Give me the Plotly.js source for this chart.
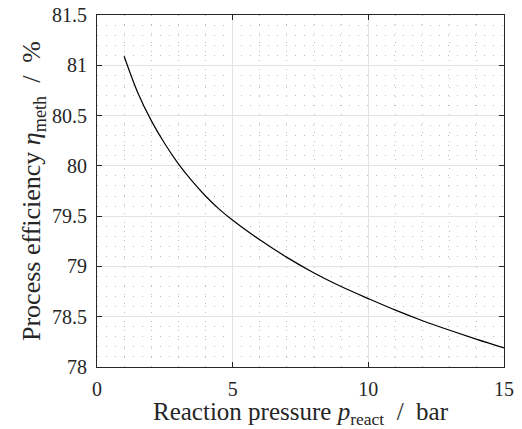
<!DOCTYPE html>
<html>
<head>
<meta charset="utf-8">
<script src="https://cdn.plot.ly/plotly-3.0.1.min.js"></script>
<style>html,body{margin:0;padding:0;background:#fff;}#chart{width:522px;height:429px;}</style>
</head>
<body>
<div id="chart"></div>
<script>
const pressure = [1, 1.5, 2, 2.5, 3, 3.5, 4, 4.5, 5, 6, 7, 8, 9, 10, 11, 12, 13, 14, 15];
const efficiency = [81.09, 80.73, 80.45, 80.22, 80.02, 79.85, 79.70, 79.57, 79.46, 79.265, 79.09, 78.935, 78.80, 78.68, 78.565, 78.46, 78.365, 78.275, 78.19];
const xTicks = [0, 5, 10, 15];
const yTicks = [78, 78.5, 79, 79.5, 80, 80.5, 81, 81.5];

const fontFam = 'Liberation Serif';
const trace = {
  x: pressure, y: efficiency, type: 'scatter', mode: 'lines',
  line: {color: '#000000', width: 1.2, shape: 'spline', smoothing: 1},
  hoverinfo: 'skip'
};
const axisCommon = {
  showline: true, mirror: 'ticks', linecolor: '#262626', linewidth: 1,
  ticks: 'inside', ticklen: 5, tickwidth: 1, tickcolor: '#262626',
  showgrid: true, gridcolor: '#e3e3e3', gridwidth: 1,
  zeroline: false,
  tickfont: {family: fontFam, size: 20, color: '#262626'}
};
const layout = {
  width: 522, height: 429,
  margin: {l: 97, r: 18, t: 15, b: 62},
  paper_bgcolor: '#ffffff', plot_bgcolor: '#ffffff',
  showlegend: false,
  font: {family: fontFam, size: 20},
  xaxis: Object.assign({}, axisCommon, {
    range: [0, 15], tickmode: 'array', tickvals: xTicks, ticktext: xTicks.map(String),
    ticklabelstandoff: 4,
    minor: {dtick: 1, tick0: 0, showgrid: true, gridcolor: '#bdbdbd', griddash: '1px,8px', gridwidth: 1, ticks: ''},
    title: {text: 'Reaction pressure <i>p</i><sub>react</sub>  /  bar', font: {family: fontFam, size: 25, color: '#262626'}, standoff: 3}
  }),
  yaxis: Object.assign({}, axisCommon, {
    range: [78, 81.5], tickmode: 'array', tickvals: yTicks, ticktext: yTicks.map(String),
    ticklabelstandoff: 5,
    minor: {dtick: 0.1, tick0: 78, showgrid: true, gridcolor: '#bdbdbd', griddash: '1px,8px', gridwidth: 1, ticks: ''},
    title: {text: 'Process efficiency <i>η</i><sub>meth</sub>  /  %', font: {family: fontFam, size: 26, color: '#262626'}, standoff: 3}
  })
};
Plotly.newPlot('chart', [trace], layout, {staticPlot: true, displayModeBar: false});
</script>
</body>
</html>
